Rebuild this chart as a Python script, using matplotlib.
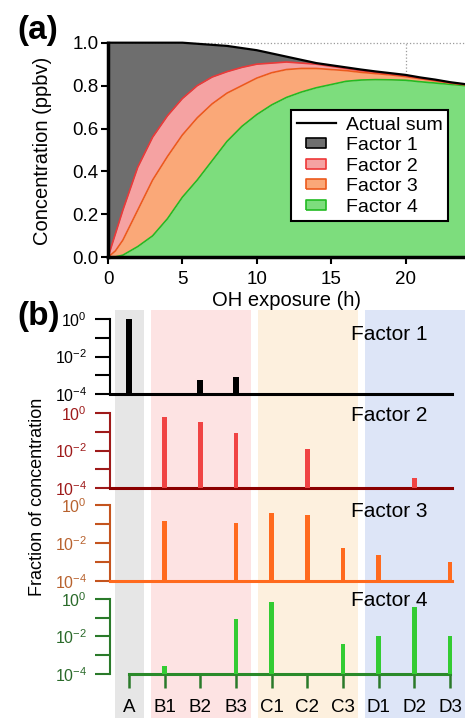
import matplotlib
matplotlib.use("Agg")
import matplotlib.pyplot as plt
import matplotlib.ticker as mticker
from matplotlib.lines import Line2D
import numpy as np

plt.rcParams["font.family"] = ["Liberation Sans", "DejaVu Sans"]
plt.rcParams["mathtext.fontset"] = "custom"
plt.rcParams["mathtext.rm"] = "Liberation Sans"
plt.rcParams["mathtext.it"] = "Liberation Sans:italic"
plt.rcParams["mathtext.bf"] = "Liberation Sans:bold"

# ── (a) stacked concentrations (cumulative tops, ppbv) ──
oh_hours = [0, 0.5, 1, 2, 3, 4, 5, 6, 7, 8, 9, 10, 11, 12,
            13, 14, 15, 16, 17, 18, 19, 20, 21, 22, 23, 24]
top_factor4 = [0.0, 0.002, 0.01, 0.05, 0.10, 0.18, 0.28, 0.36, 0.45, 0.54, 0.61, 0.665, 0.71, 0.745,
               0.77, 0.79, 0.805, 0.82, 0.826, 0.828, 0.827, 0.825, 0.818, 0.812, 0.806, 0.80]
top_factor3 = [0.0, 0.03, 0.08, 0.22, 0.36, 0.47, 0.57, 0.65, 0.715, 0.765, 0.80, 0.835, 0.86, 0.875,
               0.88, 0.88, 0.875, 0.87, 0.862, 0.856, 0.85, 0.842, 0.832, 0.822, 0.812, 0.804]
top_factor2 = [0.0, 0.11, 0.22, 0.42, 0.56, 0.66, 0.74, 0.80, 0.84, 0.865, 0.885, 0.90, 0.905, 0.91,
               0.905, 0.90, 0.89, 0.88, 0.87, 0.862, 0.854, 0.846, 0.835, 0.825, 0.814, 0.805]
actual_sum = [1.0, 1.0, 1.0, 1.0, 1.0, 1.0, 1.0, 0.995, 0.99, 0.985, 0.975, 0.965, 0.95, 0.935,
              0.92, 0.905, 0.895, 0.885, 0.875, 0.866, 0.858, 0.85, 0.838, 0.828, 0.816, 0.807]

# ── (b) fraction of concentration per species (0 = not present) ──
categories = ["A", "B1", "B2", "B3", "C1", "C2", "C3", "D1", "D2", "D3"]
frac_factor1 = [0.98, 0, 5.7e-4, 8e-4, 0, 0, 0, 0, 0, 0]
frac_factor2 = [0, 0.62, 0.33, 0.091, 0, 0.013, 0, 0, 3.4e-4, 0]
frac_factor3 = [0, 0.15, 0, 0.117, 0.40, 0.30, 5.6e-3, 2.3e-3, 0, 9.3e-4]
frac_factor4 = [0, 2.8e-4, 0, 0.085, 0.63, 0, 3.8e-3, 0.011, 0.35, 0.0107]
factor_names = ["Factor 1", "Factor 2", "Factor 3", "Factor 4"]
band_groups = [(0, 0), (1, 3), (4, 6), (7, 9)]   # first/last index of A, B, C, D

# ── styles ──
W, H = 465, 718
FILL = {"f1": "#6e6e6e", "f2": "#f5a2a2", "f3": "#faa878", "f4": "#7ddd7d"}
EDGE = {"f1": "#000000", "f2": "#ee3838", "f3": "#ec5a1c", "f4": "#22bb22"}
BAND_COLORS = ["#e6e6e6", "#fde3e3", "#fdf0de", "#dde5f7"]

BAR_COLORS = ["#000000", "#f04444", "#ff6a1e", "#33cc33"]
AXIS_COLORS = ["#000000", "#9e1a1a", "#c4541e", "#2a7a2a"]
LABEL_COLORS = ["#000000", "#9e1a1a", "#b8622e", "#2a6a2a"]
BASE_COLORS = ["#000000", "#8b0000", "#ff6a1e", "#2a8a2a"]
PANEL_BOTTOM_PX = [394.3, 488.3, 580.7, 674.0]
PANEL_H_PX = 75.3
NAME_Y = [0.72, 0.90, 0.84, 0.905]
XL = (-0.53, 9.42)

fig = plt.figure(figsize=(W / 100, H / 100), dpi=100)

# ── Panel (a) ───────────────────────────────────────────────────────────────
ax = fig.add_axes([108 / W, 1 - 257.3 / H, 1 - 108 / W, 214.6 / H])
ax.set_xlim(0, 24)
ax.set_ylim(0, 1.0)
ax.axvline(20, color="#9a9a9a", ls=":", lw=0.9, zorder=0)
ax.axhline(1.0, color="#9a9a9a", ls=":", lw=0.9, zorder=0, clip_on=False)

ax.fill_between(oh_hours, 0, top_factor4, color=FILL["f4"], lw=0, zorder=1)
ax.fill_between(oh_hours, top_factor4, top_factor3, color=FILL["f3"], lw=0, zorder=1)
ax.fill_between(oh_hours, top_factor3, top_factor2, color=FILL["f2"], lw=0, zorder=1)
ax.fill_between(oh_hours, top_factor2, actual_sum, color=FILL["f1"], lw=0, zorder=1)
ax.plot(oh_hours, top_factor4, color=EDGE["f4"], lw=1.2, zorder=2)
ax.plot(oh_hours, top_factor3, color=EDGE["f3"], lw=1.2, zorder=2)
ax.plot(oh_hours, top_factor2, color=EDGE["f2"], lw=1.2, zorder=2)
ax.plot(oh_hours, actual_sum, color="black", lw=1.6, zorder=3, clip_on=False)

ax.set_xticks([0, 5, 10, 15, 20])
ax.set_yticks([0, 0.2, 0.4, 0.6, 0.8, 1.0])
ax.yaxis.set_major_formatter(mticker.FormatStrFormatter("%.1f"))
ax.tick_params(direction="out", length=5, width=1.5, labelsize=13.5, pad=2)
ax.tick_params(axis="x", pad=5)
ax.spines[["top", "right"]].set_visible(False)
for s in ("left", "bottom"):
    ax.spines[s].set_linewidth(2.5)

box = [(-1.7, -0.9), (1.7, -0.9), (1.7, 0.9), (-1.7, 0.9), (-1.7, -0.9)]
handles = [Line2D([], [], color="black", lw=1.6, label="Actual sum")]
for key, name in zip(["f1", "f2", "f3", "f4"], factor_names):
    handles.append(Line2D([], [], ls="none", marker=box, markersize=14,
                          markerfacecolor=FILL[key], markeredgecolor=EDGE[key],
                          markeredgewidth=1.2, label=name))
leg = ax.legend(handles=handles, loc="upper left", bbox_to_anchor=(0.513, 0.686),
                fontsize=14, frameon=True, fancybox=False, edgecolor="black",
                framealpha=1, borderpad=0.3, labelspacing=0.15, handlelength=2.0,
                handletextpad=0.5, borderaxespad=0)
leg.get_frame().set_linewidth(1.5)
leg.set_zorder(5)

fig.text(286 / W, 1 - 300 / H, "OH exposure (h)", fontsize=14.5, ha="center", va="center")
fig.text(43 / W, 1 - 151 / H, "Concentration (ppbv)", fontsize=14.5, rotation=90,
         ha="center", va="center")
fig.text(17 / W, 1 - 31 / H, "(a)", fontsize=24, fontweight="bold",
         family=["Liberation Sans Narrow", "Liberation Sans"], ha="left", va="center")

# ── Panel (b) ───────────────────────────────────────────────────────────────
x = np.arange(len(categories))

bg = fig.add_axes([110 / W, 0, 1 - 110 / W, 1 - 310 / H], zorder=0)
bg.set_xlim(*XL)
bg.set_ylim(0, 1)
for (i0, i1), c in zip(band_groups, BAND_COLORS):
    bg.axvspan(x[i0] - 0.38, x[i1] + 0.42, color=c, lw=0)
bg.axis("off")

series = [frac_factor1, frac_factor2, frac_factor3, frac_factor4]
for i, vals in enumerate(series):
    vals = np.array(vals, dtype=float)
    bot = PANEL_BOTTOM_PX[i]
    a = fig.add_axes([110 / W, 1 - bot / H, 1 - 110 / W, PANEL_H_PX / H], zorder=2 + i)
    a.set_facecolor("none")
    a.set_yscale("log")
    a.set_xlim(*XL)
    a.set_ylim(1e-4, 1)
    m = vals > 0
    a.bar(x[m], vals[m] - 1e-4, bottom=1e-4, width=0.16 if i == 0 else 0.13,
          color=BAR_COLORS[i], lw=0, zorder=3)

    a.yaxis.set_major_locator(mticker.FixedLocator([1e-4, 1e-2, 1]))
    a.yaxis.set_minor_locator(mticker.FixedLocator([1e-3, 1e-1]))
    a.yaxis.set_major_formatter(mticker.FixedFormatter(["$10^{-4}$", "$10^{-2}$", "$10^{0}$"]))
    a.yaxis.set_minor_formatter(mticker.NullFormatter())
    a.tick_params(axis="y", which="both", direction="out", length=10.5, width=1.5,
                  color=AXIS_COLORS[i], labelcolor=LABEL_COLORS[i], labelsize=11.5, pad=6)

    a.spines[["top", "right"]].set_visible(False)
    a.spines["left"].set_color(AXIS_COLORS[i])
    a.spines["left"].set_linewidth(1.5)
    a.spines["bottom"].set_color(BASE_COLORS[i])
    a.spines["bottom"].set_linewidth(2.2)
    if i < 3:
        a.spines["bottom"].set_bounds(XL[0], 9.05)
        a.set_xticks([])
    else:
        a.spines["bottom"].set_bounds(0, 9)
        a.set_xticks(x)
        a.set_xticklabels(categories)
        a.tick_params(axis="x", direction="out", length=10, width=1.8,
                      color=AXIS_COLORS[i], labelsize=13.5, pad=8)

    a.text(0.895, NAME_Y[i], factor_names[i], transform=a.transAxes, ha="right",
           va="baseline", fontsize=15, clip_on=False)

fig.text(38 / W, 1 - 497 / H, "Fraction of concentration", fontsize=13, rotation=90,
         ha="center", va="center")
fig.text(17 / W, 1 - 316 / H, "(b)", fontsize=24, fontweight="bold",
         family=["Liberation Sans Narrow", "Liberation Sans"], ha="left", va="center")

fig.savefig("out.png", dpi=100)
